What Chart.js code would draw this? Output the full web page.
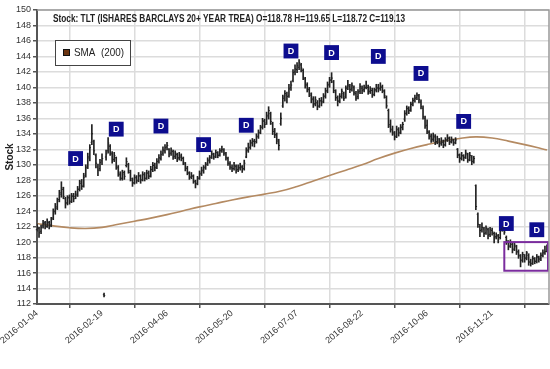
<!DOCTYPE html>
<html><head><meta charset="utf-8">
<script src="https://cdn.jsdelivr.net/npm/chart.js@4"></script>
<style>html,body{margin:0;padding:0;background:#fff}#wrap{width:550px;height:369px;position:relative}</style>
</head><body><div id="wrap"><canvas id="c" width="550" height="369"></canvas></div>
<script>
const titleText = 'Stock: TLT (ISHARES BARCLAYS 20+ YEAR TREA) O=118.78 H=119.65 L=118.72 C=119.13';
const legendText = 'SMA  (200)';
const tickLabels = ['2016-01-04','2016-02-19','2016-04-06','2016-05-20','2016-07-07','2016-08-22','2016-10-06','2016-11-21'];
const tickIndex = [0,32,64,96,128,160,192,224];

const opens = [
121.6,121.8,121.4,122.1,122.5,122.0,122.5,122.2,123.1,124.0,124.4,125.5,126.2,126.8,125.6,125.1,125.8,125.3,126.0,
125.9,126.0,126.9,127.8,127.3,128.6,129.8,130.8,132.9,133.0,131.2,129.7,129.5,130.5,113.2,131.0,131.8,132.4,131.4,130.7,
130.9,129.6,128.7,128.2,129.0,129.9,130.0,129.0,128.0,127.7,128.4,128.0,128.5,128.1,128.8,128.3,129.0,128.6,129.3,130.0,129.7,130.5,
130.8,131.5,131.8,132.3,132.0,131.5,131.7,131.1,131.3,130.9,131.0,130.8,130.1,129.5,128.9,128.4,128.5,127.8,127.6,128.3,128.9,
129.2,129.7,130.1,130.5,131.0,131.3,131.1,131.5,131.3,131.9,131.9,131.4,130.8,130.1,129.6,129.5,129.8,129.4,129.6,129.7,129.5,
131.0,131.9,132.2,132.8,133.0,133.0,133.6,134.2,134.9,135.7,135.4,136.2,136.6,135.3,134.5,133.8,133.0,135.3,137.6,138.8,139.0,138.9,
140.0,140.9,142.0,142.3,142.6,142.9,142.2,141.1,140.3,139.7,139.0,138.5,137.9,138.0,137.6,138.3,138.2,138.9,139.6,140.4,
141.0,140.7,139.4,138.6,138.3,138.9,139.2,138.8,140.0,140.1,139.8,140.0,139.2,138.8,139.5,139.9,139.7,140.0,140.0,139.5,139.6,139.1,139.7,
139.9,139.9,140.0,139.5,138.7,137.0,135.2,134.6,134.0,133.7,134.5,134.2,134.9,135.9,136.7,137.2,137.1,137.9,138.4,138.7,138.9,
138.1,137.3,136.0,135.1,134.2,133.7,133.3,133.6,133.0,133.2,132.8,132.9,132.6,133.2,133.4,133.0,133.1,132.9,132.0,131.2,130.9,
131.1,131.0,131.3,130.7,131.0,130.5,127.3,123.6,122.0,121.6,121.7,121.2,121.6,121.0,121.5,121.1,120.7,120.8,120.6,121.7,121.8,
120.6,120.0,119.5,119.7,119.1,119.4,118.7,118.2,117.7,118.2,118.0,118.3,117.5,117.3,117.8,117.6,118.0,117.9,118.3,118.7,118.78];

const highs = [
122.4,121.9,122.2,122.8,122.7,123.0,122.7,123.2,124.3,125.0,125.7,126.7,127.8,127.1,125.8,126.0,126.1,126.3,126.3,
126.6,127.2,128.0,128.1,128.9,130.0,131.5,132.6,135.2,133.2,131.4,130.1,130.7,131.4,113.4,131.9,133.5,132.6,131.7,131.6,
131.0,129.9,129.1,129.3,129.2,130.9,130.2,129.3,128.3,128.7,128.6,129.0,128.7,129.1,129.0,129.3,129.2,129.8,130.3,130.2,130.8,131.3,
131.8,132.3,132.6,132.9,132.1,132.2,131.9,131.8,131.5,131.6,131.4,131.0,130.3,129.8,129.1,129.0,128.7,128.0,128.5,129.2,129.7,
129.9,130.3,130.9,131.2,131.8,131.5,131.9,131.7,132.1,132.4,132.1,131.6,131.0,130.4,130.0,130.3,130.0,130.0,130.2,129.9,130.6,
132.2,132.8,133.2,133.4,133.3,134.0,134.5,135.1,136.0,135.9,136.8,137.5,136.8,135.5,134.7,134.1,133.3,136.7,139.0,139.6,139.4,140.4,
140.8,142.3,142.9,143.2,143.6,143.1,142.4,141.3,140.6,140.0,139.3,138.8,138.8,138.3,138.6,138.7,139.2,139.9,140.7,141.3,
141.9,140.9,139.7,138.9,139.2,139.8,139.4,140.2,140.9,140.4,140.6,140.2,139.5,139.7,140.5,140.2,140.3,140.8,140.3,140.1,139.9,139.9,140.4,
140.4,140.6,140.3,139.7,138.9,137.2,135.8,135.0,134.3,135.0,134.8,135.2,135.5,137.0,137.6,137.5,138.1,138.6,139.0,139.3,139.1,
138.4,137.6,136.3,135.8,134.4,134.0,134.1,133.9,133.7,133.4,133.5,133.2,133.5,133.9,133.6,133.6,133.3,133.5,132.1,131.4,131.6,
131.3,131.9,131.5,131.6,131.2,131.1,127.4,123.8,122.3,122.5,121.9,122.1,121.8,121.9,121.8,121.3,121.2,121.0,121.9,122.5,122.1,
120.8,120.2,120.3,119.9,120.0,119.6,119.0,118.4,118.7,118.4,118.8,118.5,117.8,118.2,118.0,118.4,118.2,118.6,119.0,119.5,119.65];

const lows = [
121.4,120.6,121.1,121.8,121.7,121.9,121.7,122.0,122.9,123.6,124.2,125.2,125.8,125.6,124.4,124.8,124.9,125.1,125.2,
125.6,125.9,126.6,126.8,127.1,128.4,129.5,130.5,132.6,131.3,129.6,128.6,129.2,130.0,112.9,130.6,131.5,131.2,130.2,130.4,
129.4,128.5,128.0,128.0,128.1,129.7,128.9,127.9,127.2,127.5,127.6,127.8,127.6,127.9,127.9,128.1,128.2,128.4,129.1,129.2,129.5,130.2,
130.6,131.2,131.5,131.9,131.0,131.2,130.7,130.8,130.4,130.6,130.5,130.0,129.2,128.7,128.1,128.2,127.6,127.0,127.4,128.1,128.6,
128.9,129.4,129.9,130.2,130.8,130.7,130.9,130.9,131.1,131.6,131.2,130.6,129.9,129.4,129.1,129.3,128.9,129.1,129.3,129.0,129.3,
130.9,131.6,132.0,132.4,132.3,132.8,133.4,134.0,134.6,134.8,135.2,135.9,135.2,133.9,133.5,132.7,131.9,135.1,137.4,138.2,138.0,138.7,
139.6,140.7,141.6,141.9,142.3,142.0,141.0,139.9,139.4,138.8,138.0,137.4,137.6,137.1,137.4,137.6,138.0,138.6,139.3,140.0,
140.6,139.3,138.3,137.6,138.0,138.6,138.3,138.6,139.7,139.3,139.5,139.0,138.3,138.5,139.2,139.2,139.4,139.8,139.1,139.2,138.7,138.9,139.4,
139.4,139.6,139.3,138.6,137.3,134.8,134.2,133.8,133.2,133.5,133.7,134.0,134.5,135.6,136.4,136.6,136.9,137.6,138.1,138.4,138.0,
137.2,135.9,134.7,134.0,133.3,132.9,133.0,132.6,132.7,132.3,132.5,132.2,132.4,133.0,132.6,132.8,132.5,132.7,130.9,130.3,130.6,
130.5,130.8,130.3,130.5,130.0,130.2,124.2,121.9,120.7,121.3,120.7,121.0,120.4,120.7,120.9,119.9,120.4,119.9,120.4,121.4,121.0,
119.7,119.0,119.3,118.6,118.9,118.4,117.9,116.8,117.4,117.4,117.7,117.0,116.9,117.1,117.2,117.3,117.4,117.6,118.1,118.4,118.72];

const closes = [
122.0,121.2,121.9,122.4,122.1,122.6,122.0,122.9,123.9,124.6,125.3,126.4,127.0,125.9,125.0,125.7,125.2,125.9,125.6,
126.2,126.8,127.6,127.2,128.4,129.6,131.0,132.2,134.0,131.8,130.2,129.3,130.3,130.8,113.1,131.4,132.8,131.6,130.6,131.2,
129.8,128.9,128.3,128.8,128.5,130.4,129.2,128.2,127.6,128.3,127.9,128.6,128.0,128.7,128.2,128.9,128.5,129.4,129.9,129.6,130.4,130.9,
131.3,131.9,132.2,132.5,131.4,131.9,131.0,131.5,130.8,131.2,130.9,130.3,129.6,129.0,128.4,128.6,127.9,127.5,128.2,128.8,129.3,
129.6,130.0,130.6,130.9,131.4,131.0,131.6,131.2,131.8,132.0,131.5,130.9,130.2,129.7,129.5,129.9,129.3,129.6,129.8,129.4,130.2,
131.8,132.3,132.9,133.1,132.8,133.7,134.1,134.8,135.6,135.2,136.4,137.0,135.6,134.3,133.9,133.2,132.5,136.0,138.6,139.2,138.8,139.8,
140.3,141.9,142.4,142.8,143.2,142.5,141.3,140.4,139.8,139.2,138.4,137.8,138.4,137.5,138.2,138.0,138.8,139.5,140.3,140.9,
141.2,139.6,138.7,138.2,138.8,139.5,138.6,139.9,140.3,139.7,140.2,139.3,138.6,139.4,140.1,139.6,139.9,140.2,139.4,139.8,139.0,139.6,140.0,
139.8,140.1,139.6,138.9,137.6,135.0,134.5,134.2,133.6,134.6,134.1,134.8,135.2,136.6,137.3,137.0,137.8,138.3,138.6,139.0,138.4,
137.5,136.2,135.0,134.3,133.6,133.2,133.8,132.9,133.4,132.7,133.1,132.5,133.2,133.5,132.9,133.3,132.8,133.2,131.3,130.8,131.2,
130.9,131.5,130.6,131.2,130.4,130.8,124.6,122.3,121.5,121.9,121.1,121.8,120.9,121.6,121.3,120.6,120.9,120.4,121.6,122.0,121.3,
120.2,119.4,119.9,119.0,119.6,118.8,118.3,117.6,118.4,117.9,118.6,117.4,117.2,117.9,117.5,118.1,117.8,118.3,118.6,118.8,119.13];

const smaIndex = [0,8,16,24,32,40,48,56,64,72,80,88,96,104,112,120,128,136,144,152,160,168,176,184,192,200,208,216,224,232,240,248,251];
const smaValues = [122.4,122.1,121.85,121.75,121.9,122.3,122.7,123.1,123.55,124.05,124.55,125.0,125.45,125.85,126.2,126.6,127.2,127.9,128.6,129.3,130.0,130.8,131.5,132.1,132.6,133.05,133.4,133.6,133.45,133.05,132.6,132.1,131.9];

const divIndex = [19,39,61,82,103,125,145,168,189,210,231,246];
const divLevel = [130.8,134.6,135.0,132.6,135.1,144.7,144.5,144.0,141.8,135.6,122.4,121.6];

const boxIndex = [230,252];
const boxPrice = [116.3,120.0];

const FONT = "'Liberation Sans',Arial,sans-serif";

function narrowText(ctx, text, x, y, targetWidth) {
  const w = ctx.measureText(text).width;
  ctx.save();
  ctx.translate(x, y);
  ctx.scale(targetWidth / w, 1);
  ctx.fillText(text, 0, 0);
  ctx.restore();
}

const ohlcTicks = {
  id: 'ohlcTicks',
  afterDatasetsDraw(chart) {
    const meta = chart.getDatasetMeta(0);
    const ys = chart.scales.y;
    const ctx = chart.ctx;
    ctx.save();
    ctx.strokeStyle = '#222';
    ctx.lineWidth = 1;
    meta.data.forEach((el, i) => {
      const x = el.x;
      const yo = ys.getPixelForValue(opens[i]);
      const yc = ys.getPixelForValue(closes[i]);
      ctx.beginPath();
      ctx.moveTo(x - 1.2, yo); ctx.lineTo(x, yo);
      ctx.moveTo(x, yc); ctx.lineTo(x + 1.2, yc);
      ctx.stroke();
    });
    ctx.restore();
  }
};

const decorations = {
  id: 'decorations',
  afterDraw(chart) {
    const ctx = chart.ctx;
    const ca = chart.chartArea;
    const xs = chart.scales.x, ys = chart.scales.y;
    ctx.save();
    const dm = chart.getDatasetMeta(2);
    ctx.fillStyle = '#ffffff';
    ctx.font = "bold 9px " + FONT;
    ctx.textAlign = 'center';
    ctx.textBaseline = 'middle';
    dm.data.forEach(el => ctx.fillText('D', el.x, el.y + 0.5));
    const bx0 = xs.getPixelForValue(boxIndex[0]);
    const bx1 = xs.getPixelForValue(boxIndex[1]);
    const by0 = ys.getPixelForValue(boxPrice[1]);
    const by1 = ys.getPixelForValue(boxPrice[0]);
    ctx.strokeStyle = '#7b2d9e';
    ctx.lineWidth = 2;
    ctx.strokeRect(bx0, by0, bx1 - bx0 - 1, by1 - by0);
    ctx.strokeStyle = '#999';
    ctx.lineWidth = 1.5;
    ctx.beginPath();
    ctx.moveTo(ca.left, ca.top); ctx.lineTo(ca.right, ca.top); ctx.lineTo(ca.right, ca.bottom);
    ctx.stroke();
    ctx.fillStyle = '#222';
    ctx.font = "bold 10px " + FONT;
    ctx.textAlign = 'left';
    ctx.textBaseline = 'middle';
    narrowText(ctx, titleText, 53, 19, 352);
    ctx.fillStyle = '#fff';
    ctx.fillRect(55.5, 40.5, 75, 25);
    ctx.strokeStyle = '#444';
    ctx.lineWidth = 1;
    ctx.strokeRect(55.5, 40.5, 75, 25);
    ctx.fillStyle = '#6b3410';
    ctx.fillRect(63, 49, 7, 7);
    ctx.strokeStyle = '#111';
    ctx.strokeRect(63.5, 49.5, 6, 6);
    ctx.fillStyle = '#222';
    ctx.font = "11.5px " + FONT;
    narrowText(ctx, legendText, 74, 53, 50);
    ctx.restore();
  }
};

new Chart(document.getElementById('c'), {
  type: 'bar',
  data: {
    datasets: [
      {
        type: 'bar',
        data: highs.map((h, i) => ({x: i, y: [lows[i], h]})),
        backgroundColor: '#222',
        borderWidth: 0,
        barThickness: 1,
        order: 2
      },
      {
        type: 'line',
        data: smaIndex.map((x, k) => ({x: x, y: smaValues[k]})),
        borderColor: '#b48a62',
        borderWidth: 1.6,
        pointRadius: 0,
        tension: 0.4,
        fill: false,
        order: 3
      },
      {
        type: 'line',
        showLine: false,
        data: divIndex.map((x, k) => ({x: x, y: divLevel[k]})),
        pointStyle: 'rect',
        pointRadius: 10.5,
        pointBackgroundColor: '#0d0d8f',
        pointBorderWidth: 0,
        order: 1
      }
    ]
  },
  options: {
    responsive: false,
    animation: false,
    events: [],
    layout: {autoPadding: false, padding: {top: 10, right: 1, left: 0, bottom: 0}},
    plugins: {legend: {display: false}, tooltip: {enabled: false}},
    scales: {
      x: {
        type: 'linear',
        min: 0, max: 252,
        offset: false,
        grid: {color: '#dcdcdc', lineWidth: 1.5, tickLength: 4, tickColor: '#555', tickWidth: 1.5},
        border: {color: '#555', width: 2},
        afterFit(s) { s.height = 65; s.paddingRight = 0; s.paddingLeft = 0; },
        ticks: {
          stepSize: 32,
          includeBounds: false,
          autoSkip: false,
          maxRotation: 40, minRotation: 40,
          padding: 0,
          color: '#333',
          font: {family: FONT, size: 9},
          callback(v) { const k = tickIndex.indexOf(v); return k >= 0 ? tickLabels[k] : ''; }
        }
      },
      y: {
        min: 112, max: 150,
        grid: {color: '#dcdcdc', lineWidth: 1.5, tickLength: 4, tickColor: '#555', tickWidth: 1.5},
        border: {color: '#555', width: 2},
        afterFit(s) { s.width = 37; },
        title: {display: true, text: 'Stock', color: '#222', font: {family: FONT, size: 10, weight: 'bold'}, padding: {top: 4, bottom: 0}},
        ticks: {stepSize: 2, padding: 2, color: '#333', font: {family: FONT, size: 9}}
      }
    }
  },
  plugins: [ohlcTicks, decorations]
});
</script>
</body></html>
